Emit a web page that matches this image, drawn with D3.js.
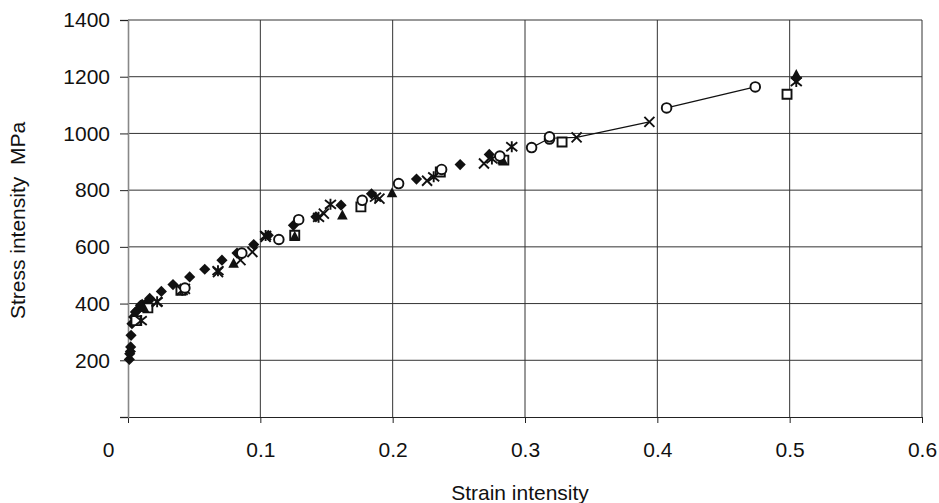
<!DOCTYPE html>
<html>
<head>
<meta charset="utf-8">
<script src="https://cdn.jsdelivr.net/npm/d3@7"></script>
<style>
  body { margin: 0; background: #fff; }
  svg { font-family: "Liberation Sans", Arial, sans-serif; }
  text { white-space: pre; }
</style>
</head>
<body>
<svg id="chart" width="939" height="503"></svg>
<script>
// Tick values
const xTicks = [0, 0.1, 0.2, 0.3, 0.4, 0.5, 0.6];
const yTicks = [0, 200, 400, 600, 800, 1000, 1200, 1400];

// Series: [strain, stress MPa]
const diamonds = [[0.0010, 203], [0.0013, 223], [0.0018, 231], [0.0020, 247], [0.0023, 288], [0.0030, 329],
    [0.0043, 353], [0.0056, 370], [0.0069, 376], [0.0094, 394], [0.0107, 397], [0.0156, 410], [0.0164, 418],
    [0.0252, 443], [0.034, 467], [0.0466, 494], [0.058, 521], [0.071, 553], [0.0824, 578], [0.095, 608],
    [0.106, 641], [0.125, 676], [0.142, 706], [0.161, 747], [0.184, 787], [0.218, 839], [0.251, 890],
    [0.273, 926], [0.505, 1195]];
const squares = [[0.006, 340], [0.015, 385], [0.040, 447], [0.126, 641], [0.176, 741], [0.236, 864],
    [0.284, 906], [0.328, 970], [0.498, 1138]];
const triangles = [[0.012, 385], [0.0798, 541], [0.126, 636], [0.162, 711], [0.1995, 790], [0.283, 906],
    [0.505, 1207]];
const crosses = [[0.022, 406], [0.043, 452], [0.068, 511], [0.085, 553], [0.094, 582], [0.104, 635],
    [0.148, 717], [0.19, 770], [0.226, 833], [0.269, 894], [0.339, 986], [0.394, 1041]];
const asterisks = [[0.010, 340], [0.022, 406], [0.041, 447], [0.068, 516], [0.104, 640], [0.144, 704],
    [0.153, 750], [0.187, 775], [0.231, 847], [0.275, 910], [0.290, 953], [0.505, 1183]];
const circles = [[0.043, 455], [0.086, 578], [0.114, 626], [0.129, 696], [0.177, 764], [0.2045, 823],
    [0.237, 873], [0.281, 920], [0.305, 950], [0.3185, 980], [0.3185, 988], [0.407, 1090], [0.474, 1164]];

// Thin connecting lines visible in the picture
const lineA = [[0.305, 950], [0.3185, 983], [0.339, 986], [0.394, 1041]];
const lineB = [[0.407, 1090], [0.474, 1164]];
const lineC = [[0.144, 704], [0.153, 750]];

const margin = { top: 20, right: 17, bottom: 86, left: 128 },
    width = 939 - margin.left - margin.right,
    height = 503 - margin.top - margin.bottom;

const svg = d3.select("#chart")
    .append("g")
    .attr("transform", `translate(${margin.left}, ${margin.top})`);

const x = d3.scaleLinear().domain([0, 0.6]).range([0, width]);
const y = d3.scaleLinear().domain([0, 1400]).range([height, 0]);

const ink = "#111";
const fontSize = 21;

// Gridlines
svg.append("g")
    .selectAll("line")
    .data(yTicks.slice(1))
    .join("line")
    .attr("x1", 0).attr("x2", width)
    .attr("y1", d => y(d)).attr("y2", d => y(d))
    .attr("stroke", "#333").attr("stroke-width", 1);

svg.append("g")
    .selectAll("line")
    .data(xTicks.slice(1))
    .join("line")
    .attr("x1", d => x(d)).attr("x2", d => x(d))
    .attr("y1", 0).attr("y2", height)
    .attr("stroke", "#333").attr("stroke-width", 1);

// X axis
const xAxis = svg.append("g")
    .attr("transform", `translate(0, ${height})`)
    .call(d3.axisBottom(x).tickValues(xTicks).tickFormat(d => d === 0 ? "0" : d3.format(".1f")(d))
        .tickSize(6).tickPadding(19));
xAxis.select(".domain").attr("stroke", "#222");
xAxis.selectAll(".tick line").attr("stroke", "#222");
xAxis.selectAll("text")
    .attr("font-size", fontSize).attr("fill", ink)
    .attr("dx", d => d === 0 ? -20 : 0);

// Y axis
const yAxis = svg.append("g")
    .call(d3.axisLeft(y).tickValues(yTicks).tickFormat(d => d === 0 ? "" : d)
        .tickSize(8).tickPadding(10));
yAxis.select(".domain").attr("stroke", "#888").attr("stroke-width", 1.6);
yAxis.selectAll(".tick line").attr("stroke", "#222");
yAxis.selectAll("text").attr("font-size", fontSize).attr("fill", ink);

// Axis titles
svg.append("text")
    .attr("x", width / 2 - 5)
    .attr("y", height + 83)
    .attr("text-anchor", "middle")
    .attr("font-size", fontSize)
    .attr("fill", ink)
    .text("Strain intensity");

svg.append("text")
    .attr("transform", `translate(${-103}, ${height / 2 + 2}) rotate(-90)`)
    .attr("text-anchor", "middle")
    .attr("font-size", fontSize)
    .attr("fill", ink)
    .text("Stress intensity  MPa");

// Connecting lines
const line = d3.line().x(d => x(d[0])).y(d => y(d[1]));
[lineA, lineB, lineC].forEach(pts => {
    svg.append("path")
        .datum(pts)
        .attr("d", line)
        .attr("fill", "none")
        .attr("stroke", ink)
        .attr("stroke-width", 1.2);
});

// Marker shapes
const shapes = {
    diamond: r => `M0,${-r}L${r},0L0,${r}L${-r},0Z`,
    square: r => `M${-r},${-r}H${r}V${r}H${-r}Z`,
    triangle: r => `M0,${-r * 1.1}L${r},${r * 0.8}L${-r},${r * 0.8}Z`,
    cross: r => `M${-r},${-r}L${r},${r}M${-r},${r}L${r},${-r}`,
    asterisk: r => `M${-r},${-r * 0.8}L${r},${r * 0.8}M${-r},${r * 0.8}L${r},${-r * 0.8}M0,${-r}V${r}`,
    circle: r => `M${r},0A${r},${r} 0 1,1 ${-r},0A${r},${r} 0 1,1 ${r},0Z`
};

const series = [
    { data: diamonds, shape: "diamond", r: 5.6, fill: ink, stroke: "none" },
    { data: squares, shape: "square", r: 4.5, fill: "#fff", stroke: ink },
    { data: triangles, shape: "triangle", r: 5.3, fill: ink, stroke: "none" },
    { data: crosses, shape: "cross", r: 5, fill: "none", stroke: ink },
    { data: asterisks, shape: "asterisk", r: 5.5, fill: "none", stroke: ink },
    { data: circles, shape: "circle", r: 4.8, fill: "#fff", stroke: ink }
];

series.forEach(s => {
    svg.append("g")
        .selectAll("path")
        .data(s.data)
        .join("path")
        .attr("transform", d => `translate(${x(d[0])}, ${y(d[1])})`)
        .attr("d", shapes[s.shape](s.r))
        .attr("fill", s.fill)
        .attr("stroke", s.stroke)
        .attr("stroke-width", 1.9);
});
</script>
</body>
</html>
